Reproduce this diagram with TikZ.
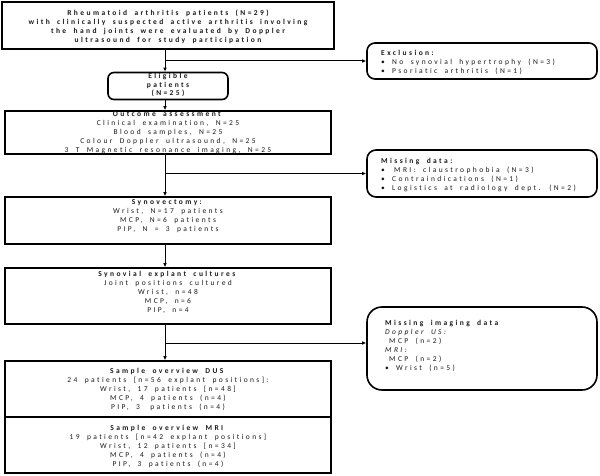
\documentclass[tikz,border=0pt]{standalone}
\usepackage{fontspec}
\setmainfont{Carlito}[LetterSpace=32, WordSpace=1.8, Ligatures={NoCommon,NoContextual}]
\usetikzlibrary{arrows.meta}
\tikzset{
  box/.style={draw=black, line width=1.6pt, inner sep=0pt, minimum width=326pt},
  rbox/.style={draw=black, line width=1.6pt, inner sep=0pt, minimum width=230pt, rounded corners=#1},
  txt/.style={font=\fontsize{7.5}{9}\selectfont, text=black!90, inner sep=0pt, anchor=north},
  ctxt/.style={txt, align=center},
  ltxt/.style={txt, align=left, anchor=north west},
  conn/.style={line width=1pt, -{Latex[length=4pt,width=3.6pt]}}
}
\newcommand{\bul}{\makebox[11pt][l]{•}}
\begin{document}
\begin{tikzpicture}[x=1pt,y=-1pt]
\useasboundingbox (0,0) rectangle (600,476);
% boxes
\node[box, minimum width=332pt, minimum height=47pt] (b1) at (168,25.5) {};
\node[rbox=6pt, minimum width=120pt, minimum height=27pt] (elig) at (168,86) {};
\node[rbox=8pt, minimum height=36pt] (excl) at (482,61) {};
\node[box, minimum height=43pt] (outc) at (168,132.5) {};
\node[rbox=9pt, minimum height=47pt] (miss) at (482,173.5) {};
\node[box, minimum height=47pt] (syn) at (168,220.5) {};
\node[box, minimum height=56pt] (expl) at (168,296) {};
\node[box, minimum height=56pt] (dus) at (168,389) {};
\node[box, minimum height=56pt] (mri) at (168,445) {};
\node[rbox=15pt, minimum height=83pt] (mimg) at (482,348.5) {};
% texts
\node[ctxt, font=\fontsize{7.5}{9}\selectfont\bfseries] (t1) at (168,9.6) {Rheumatoid arthritis patients (N=29)\\with clinically suspected active arthritis involving\\the hand joints were evaluated by Doppler\\ultrasound for study participation};
\node[ctxt, font=\fontsize{7.5}{8.3}\selectfont\bfseries] (t2) at (168,73.4) {Eligible\\patients\\(N=25)};
\node[ltxt] (t3) at (381,49.9) {\textbf{Exclusion:}\\\bul No synovial hypertrophy (N=3)\\\bul Psoriatic arthritis (N=1)};
\node[ctxt] (t4) at (168,111.6) {\textbf{Outcome assessment}\\Clinical examination, N=25\\Blood samples, N=25\\Colour Doppler ultrasound, N=25\\3 T Magnetic resonance imaging, N=25};
\node[ltxt] (t5) at (381,158.3) {\textbf{Missing data:}\\\bul\hspace*{2pt}MRI: claustrophobia (N=3)\\\bul Contraindications (N=1)\\\bul Logistics at radiology dept. (N=2)};
\node[ctxt] (t6) at (168,199.6) {\textbf{Synovectomy:}\\Wrist, N=17 patients\\MCP, N=6 patients\\PIP, N = 3 patients};
\node[ctxt] (t7) at (168,270.9) {\textbf{Synovial explant cultures}\\Joint positions cultured\\Wrist, n=48\\MCP, n=6\\PIP, n=4};
\node[ctxt] (t8) at (168,368.3) {\textbf{Sample overview DUS}\\24 patients [n=56 explant positions]:\\Wrist, 17 patients [n=48]\\MCP, 4 patients (n=4)\\PIP, 3\hspace*{3pt} patients (n=4)};
\node[ctxt] (t9) at (168,424.9) {\textbf{Sample overview MRI}\\19 patients [n=42 explant positions]\\Wrist, 12 patients [n=34]\\MCP, 4 patients (n=4)\\PIP, 3 patients (n=4)};
\node[ltxt] (t10) at (385,319.6) {\textbf{Missing imaging data}\\\textit{Doppler US:}\\\hspace*{4pt}MCP (n=2)\\\textit{MRI:}\\\hspace*{4pt}MCP (n=2)\\\bul Wrist (n=5)};
% spine and connectors
\coordinate (spine) at (165,0);
\coordinate (mimgin) at ([yshift=5.5pt]mimg.west);
\draw[conn] (b1.south -| spine) -- (elig.north -| spine);
\draw[conn] (b1.south -| spine) |- (excl.west);
\draw[conn] (elig.south -| spine) -- (outc.north -| spine);
\draw[conn] (outc.south -| spine) -- (syn.north -| spine);
\draw[conn] (outc.south -| spine) |- (miss.west);
\draw[conn] (syn.south -| spine) -- (expl.north -| spine);
\draw[conn] (expl.south -| spine) -- (dus.north -| spine);
\draw[conn] (expl.south -| spine) |- (mimgin);
\end{tikzpicture}
\end{document}
